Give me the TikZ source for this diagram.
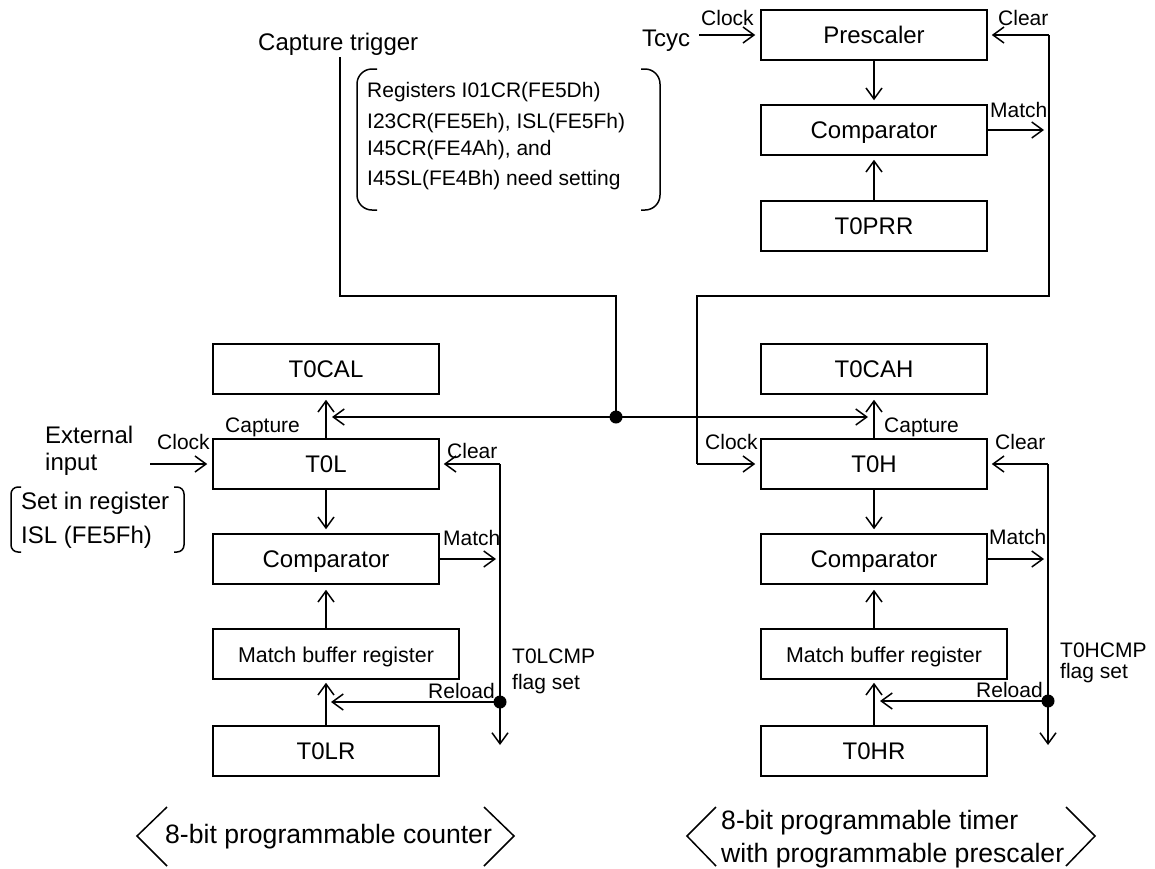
\documentclass[tikz,border=0pt]{standalone}
\usepackage{fontspec}
\setmainfont{Liberation Sans}
\usetikzlibrary{arrows.meta,calc}
\tikzset{
  box/.style={draw,line width=1.5pt,inner sep=0pt,minimum height=50pt,minimum width=226pt,text height=17pt,text depth=1pt,font=\fontsize{24}{24}\selectfont},
  wbox/.style={box,minimum width=246pt,font=\fontsize{21.4}{21.4}\selectfont},
  lab/.style={inner sep=0pt,anchor=base west,font=\fontsize{21}{21}\selectfont},
  big/.style={inner sep=0pt,anchor=base west,font=\fontsize{24}{24}\selectfont},
  huge/.style={inner sep=0pt,anchor=base west,font=\fontsize{26.6}{26.6}\selectfont},
  conn/.style={line width=1.5pt},
  arr/.style={conn,-{Straight Barb[length=11pt,width=16pt,line width=1.5pt]}},
  dot/.style={circle,fill=black,inner sep=0pt,minimum size=13pt},
}
\begin{document}
\begin{tikzpicture}[x=1pt,y=-1pt]
\useasboundingbox (0,0) rectangle (1155,868);
% top block
\node[box] (pre) at (874,35) {Prescaler};
\node[box] (cmpP) at (874,130) {Comparator};
\node[box] (prr) at (874,226) {T0PRR};
% left block
\node[box] (cal) at (326,369) {T0CAL};
\node[box] (tl) at (326,464) {T0L};
\node[box] (cmpL) at (326,559) {Comparator};
\node[wbox] (mbL) at (336,654) {Match buffer register};
\node[box] (lr) at (326,751) {T0LR};
% right block
\node[box] (cah) at (874,369) {T0CAH};
\node[box] (th) at (874,464) {T0H};
\node[box] (cmpH) at (874,559) {Comparator};
\node[wbox] (mbH) at (884,654) {Match buffer register};
\node[box] (hr) at (874,751) {T0HR};
% junctions
\node[dot] (bus) at (616,417) {};
\node[dot] (rlL) at (500,702) {};
\node[dot] (rlH) at (1048,701) {};
% free ends
\coordinate (capT) at (340,57);
\coordinate (capA) at (340,296);
\coordinate (capB) at (616,296);
\coordinate (busL) at (332,417);
\coordinate (busR) at (868,417);
\coordinate (clkP) at (699,35);
\coordinate (clkL) at (150,464);
\coordinate (clrP) at (1049,35);
\coordinate (bendA) at (1049,296);
\coordinate (bendB) at (697,296);
\coordinate (bendC) at (697,464);
\coordinate (clrL) at (500,464);
\coordinate (clrH) at (1048,464);
\coordinate (matP) at (1044,130);
\coordinate (matL) at (496,559);
\coordinate (matH) at (1044,559);
\coordinate (endL) at (500,745);
\coordinate (endH) at (1048,745);
% connectors
\draw[arr,shorten >=4pt] (pre) -- (cmpP);
\draw[arr,shorten >=4pt] (prr) -- (cmpP);
\draw[arr] (clkP) -- ([xshift=-5pt]pre.west);
\draw[arr] (clrP) -- ([xshift=4pt]pre.east);
\draw[arr] (cmpP.east) -- (matP);
\draw[conn] (clrP) -- (bendA) -- (bendB) -- (bendC);
\draw[arr] (bendC) -- ([xshift=-5pt]th.west);
\draw[conn] (capT) -- (capA) -- (capB) -- (bus.center);
\draw[arr] (bus.center) -- (busL);
\draw[arr] (bus.center) -- (busR);
\draw[arr,shorten >=5pt] (tl) -- (cal);
\draw[arr,shorten >=5pt] (th) -- (cah);
\draw[arr,shorten >=4pt] (tl) -- (cmpL);
\draw[arr,shorten >=4pt] (th) -- (cmpH);
\draw[arr,shorten >=5pt] (mbL.north -| cmpL) -- (cmpL);
\draw[arr,shorten >=5pt] (mbH.north -| cmpH) -- (cmpH);
\draw[arr,shorten >=3pt] (lr) -- (mbL.south -| lr);
\draw[arr,shorten >=3pt] (hr) -- (mbH.south -| hr);
\draw[arr] (clkL) -- ([xshift=-5pt]tl.west);
\draw[arr] (clrL) -- ([xshift=4pt]tl.east);
\draw[arr] (clrH) -- ([xshift=4pt]th.east);
\draw[arr] (cmpL.east) -- (matL);
\draw[arr] (cmpH.east) -- (matH);
\draw[conn] (clrL) -- (rlL.center);
\draw[conn] (clrH) -- (rlH.center);
\draw[arr] (rlL.center) -- (endL);
\draw[arr] (rlH.center) -- (endH);
\draw[arr] (rlL.center) -- (331,702);
\draw[arr] (rlH.center) -- (880,701);
% labels
\node[big] (t1) at (258,50) {Capture trigger};
\node[big] (t2) at (642,46) {Tcyc};
\node[lab] (l1) at (701,25) {Clock};
\node[lab] (l2) at (998,25) {Clear};
\node[lab] (l3) at (990,117) {Match};
\node[lab] (l4) at (225,432) {Capture};
\node[lab] (l5) at (157,449) {Clock};
\node[lab] (l6) at (447,458) {Clear};
\node[lab] (l7) at (443,545) {Match};
\node[lab] (l8) at (428,698) {Reload};
\node[lab] (l9) at (705,449) {Clock};
\node[lab] (l10) at (884,432) {Capture};
\node[lab] (l11) at (995,449) {Clear};
\node[lab] (l12) at (989,544) {Match};
\node[lab] (l13) at (976,697) {Reload};
\node[lab] (l14) at (512,663) {T0LCMP};
\node[lab] (l15) at (512,689) {flag set};
\node[lab] (l16) at (1060,657) {T0HCMP};
\node[lab] (l17) at (1060,678) {flag set};
\node[big] (e1) at (45,443) {External};
\node[big] (e2) at (45,470) {input};
\node[big] (s1) at (21,509) {Set in register};
\node[big] (s2) at (21,543) {ISL (FE5Fh)};
\node[lab] (r1) at (367,97) {Registers I01CR(FE5Dh)};
\node[lab] (r2) at (367,128) {I23CR(FE5Eh), ISL(FE5Fh)};
\node[lab] (r3) at (367,155) {I45CR(FE4Ah), and};
\node[lab] (r4) at (367,185) {I45SL(FE4Bh) need setting};
\node[huge] (c1) at (165,843) {8-bit programmable counter};
\node[huge] (c2) at (721,829) {8-bit programmable timer};
\node[huge] (c3) at (721,862) {with programmable prescaler};
% brackets
\draw[conn,rounded corners=15pt] (377,69) -- (357,69) -- (357,210) -- (377,210);
\draw[conn,rounded corners=15pt] (641,69) -- (660,69) -- (660,210) -- (641,210);
\draw[conn,rounded corners=7pt] (21,487) -- (11,487) -- (11,552) -- (21,552);
\draw[conn,rounded corners=7pt] (174,487) -- (184,487) -- (184,552) -- (174,552);
% chevrons
\draw[conn] (167,807) -- (137,836) -- (167,866);
\draw[conn] (484,807) -- (514,836) -- (484,866);
\draw[conn] (716,807) -- (687,836) -- (716,866);
\draw[conn] (1066,807) -- (1095,836) -- (1066,866);
\end{tikzpicture}
\end{document}
